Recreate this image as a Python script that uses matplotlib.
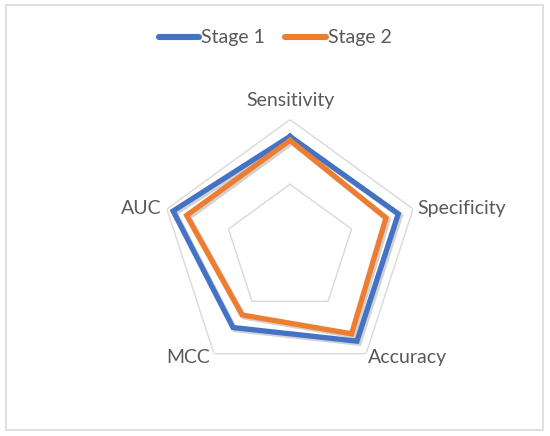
import numpy as np
import matplotlib.pyplot as plt
import matplotlib.patheffects as pe
from matplotlib.patches import Rectangle

# =========================
# DATA
# =========================

metrics = ["Sensitivity", "Specificity", "Accuracy", "MCC", "AUC"]
stage1 = [0.87, 0.88, 0.88, 0.75, 0.95]
stage2 = [0.84, 0.78, 0.81, 0.63, 0.84]
grid_levels = [0.5, 1.0]

blue = "#4472C4"
orange = "#ED7D31"
grid_color = "#D9D9D9"
text_color = "#595959"

plt.rcParams["font.family"] = ["Lato", "DejaVu Sans"]

# =========================
# CHART
# =========================

fig = plt.figure(figsize=(5.5, 4.36), dpi=100)

# outer chart border
fig.patches.append(Rectangle((6 / 550, 1 - 430 / 436), 537 / 550, 425 / 436,
                             transform=fig.transFigure, fill=False,
                             edgecolor="#D9D9D9", linewidth=1.2))

# centre (290, 249) px, radius ~129 px
cx, cy, R = 290, 249, 129.4
ax = fig.add_axes([(cx - R) / 550, 1 - (cy + R) / 436, 2 * R / 550, 2 * R / 436],
                  projection="polar")
ax.set_theta_offset(np.pi / 2)
ax.set_theta_direction(-1)
ax.set_ylim(0, 1)

angles = np.linspace(0, 2 * np.pi, len(metrics), endpoint=False)
closed = np.concatenate([angles, angles[:1]])

for lvl in grid_levels:
    ax.plot(closed, [lvl] * len(closed), color=grid_color, linewidth=1.0, zorder=1)

shadow = [pe.SimpleLineShadow(offset=(1.5, -1.5), shadow_color="gray", alpha=0.35),
          pe.Normal()]

ax.plot(closed, stage1 + stage1[:1], color=blue, linewidth=3.8,
        solid_joinstyle="miter", label="Stage 1", path_effects=shadow, zorder=3)
ax.plot(closed, stage2 + stage2[:1], color=orange, linewidth=3.8,
        solid_joinstyle="miter", label="Stage 2", path_effects=shadow, zorder=4)

# category labels, placed Excel-style around the outer vertices
label_pos = [
    ((0, 11), "center", "bottom"),
    ((4, 1), "left", "center"),
    ((2, -4), "left", "center"),
    ((-4, -4), "right", "center"),
    ((-5, 1), "right", "center"),
]
for ang, name, (off, ha, va) in zip(angles, metrics, label_pos):
    ax.annotate(name, xy=(ang, 1.0), xytext=off, textcoords="offset pixels",
                ha=ha, va=va, fontsize=14, color=text_color,
                annotation_clip=False)

ax.set_xticks([])
ax.set_yticks([])
ax.grid(False)
ax.spines["polar"].set_visible(False)
ax.patch.set_visible(False)

leg = fig.legend(loc="center", bbox_to_anchor=(0.5, 1 - 38 / 436), ncol=2,
                 frameon=False, fontsize=14, handlelength=2.1,
                 handletextpad=0.1, columnspacing=1.0)
for t in leg.get_texts():
    t.set_color(text_color)
for h in leg.legend_handles:
    h.set_path_effects([])
    h.set_solid_capstyle("round")
    h.set_linewidth(4.4)

plt.savefig("out.png", dpi=100)
plt.close()
